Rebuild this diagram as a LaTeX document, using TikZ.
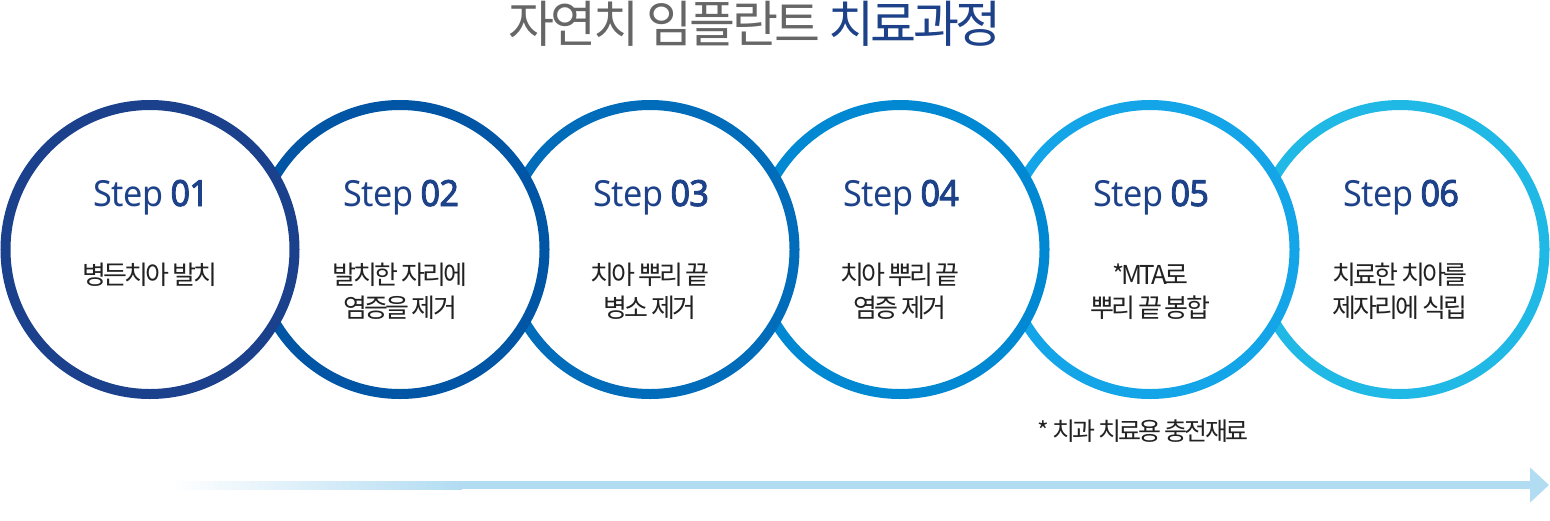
\documentclass[tikz,border=0pt]{standalone}
\usepackage{fontspec}
\usetikzlibrary{arrows.meta}
\newfontfamily\titlefont[LetterSpace=-7]{Noto Sans CJK KR}
\newfontfamily\bodyfont[LetterSpace=-11]{Noto Sans CJK KR}
\newfontfamily\stepfont[FakeStretch=0.95,LetterSpace=-2,AutoFakeBold=2.5]{Noto Sans}
\definecolor{ringA}{RGB}{27,64,140}
\definecolor{ringB}{RGB}{0,86,164}
\definecolor{ringC}{RGB}{0,108,186}
\definecolor{ringD}{RGB}{0,136,210}
\definecolor{ringE}{RGB}{20,165,232}
\definecolor{ringF}{RGB}{32,184,228}
\definecolor{stepblue}{RGB}{29,66,137}
\definecolor{titlegray}{RGB}{102,102,102}
\definecolor{textblack}{RGB}{34,34,34}
\definecolor{arrowblue}{RGB}{178,220,242}
\begin{document}
\begin{tikzpicture}[x=1pt,y=-1pt,
    ring/.style={circle,minimum size=289pt,inner sep=0pt,line width=10pt,fill=white},
    steptitle/.style={anchor=base,text=stepblue,font=\stepfont\fontsize{36}{40}\selectfont},
    stepnote/.style={anchor=base,align=center,text=textblack,font=\bodyfont\fontsize{26}{33}\selectfont}]
    \useasboundingbox (0,0) rectangle (1550,520);

    % 제목
    \node[anchor=base,font=\titlefont\fontsize{50}{54}\selectfont] (title) at (755,42)
        {\textcolor{titlegray}{자연치 임플란트} \textcolor{stepblue}{치료과정}};

    % 여섯 개의 원 (앞 단계가 위로 오도록 뒤에서부터 그림)
    \node[ring,draw=ringF] (c6) at (1400,249.5) {};
    \node[ring,draw=ringE] (c5) at (1150,249.5) {};
    \node[ring,draw=ringD] (c4) at (900,249.5) {};
    \node[ring,draw=ringC] (c3) at (650,249.5) {};
    \node[ring,draw=ringB] (c2) at (400,249.5) {};
    \node[ring,draw=ringA] (c1) at (150,249.5) {};

    % 단계 번호
    \node[steptitle] (s1) at (151,206) {Step \textbf{01}};
    \node[steptitle] (s2) at (401,206) {Step \textbf{02}};
    \node[steptitle] (s3) at (651,206) {Step \textbf{03}};
    \node[steptitle] (s4) at (901,206) {Step \textbf{04}};
    \node[steptitle] (s5) at (1151,206) {Step \textbf{05}};
    \node[steptitle] (s6) at (1401,206) {Step \textbf{06}};

    % 단계 설명 (두 줄짜리는 아랫줄 기준선에 맞춤)
    \node[stepnote] (n1) at (150,284) {병든치아 발치};
    \node[stepnote] (n2) at (400,317) {발치한 자리에\\염증을 제거};
    \node[stepnote] (n3) at (650,317) {치아 뿌리 끝\\병소 제거};
    \node[stepnote] (n4) at (900,317) {치아 뿌리 끝\\염증 제거};
    \node[stepnote] (n5) at (1150,317) {*MTA로\\뿌리 끝 봉합};
    \node[stepnote] (n6) at (1400,317) {치료한 치아를\\제자리에 식립};

    % 각주
    \node[anchor=base,text=textblack,font=\bodyfont\fontsize{25}{28}\selectfont] (foot) at (1143,440)
        {* 치과 치료용 충전재료};

    % 진행 화살표 (왼쪽은 흐려짐)
    \coordinate (arrowstart) at (170,485);
    \coordinate (fadeend) at (460,485);
    \coordinate (arrowend) at (1549,485);
    \draw[arrowblue,line width=8pt,-{Triangle[length=19pt,width=34pt]}] (fadeend) -- (arrowend);
    \shade[left color=white,right color=arrowblue] ([yshift=4pt]arrowstart) rectangle ([xshift=2pt,yshift=-4pt]fadeend);
\end{tikzpicture}
\end{document}
